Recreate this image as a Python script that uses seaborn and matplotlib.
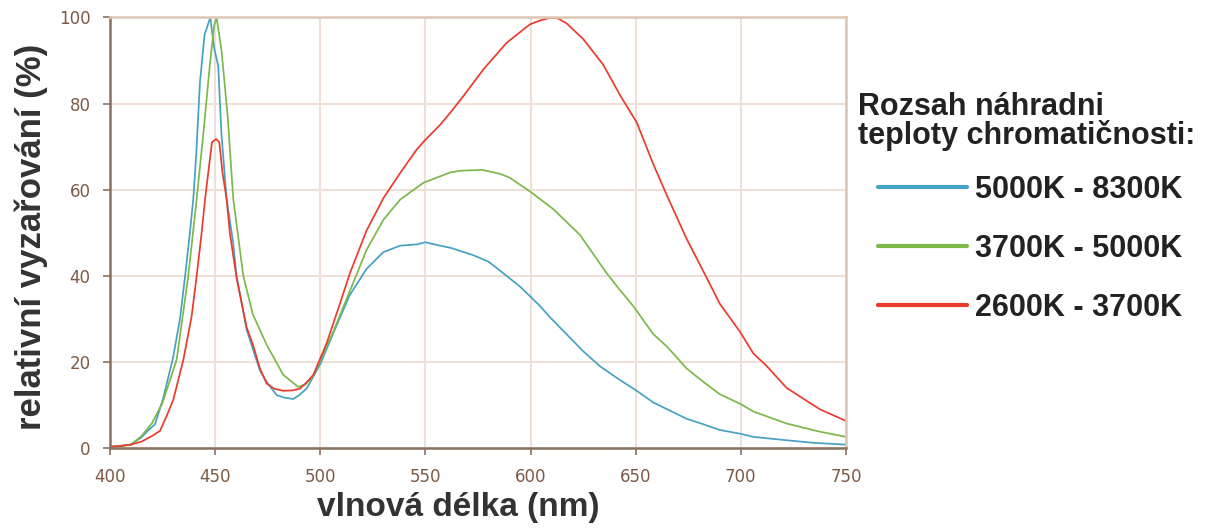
import numpy as np
import pandas as pd
import matplotlib
matplotlib.use("Agg")
import matplotlib.pyplot as plt
from matplotlib.lines import Line2D
import seaborn as sns

# ---- data ----
series_names = ["5000K - 8300K", "3700K - 5000K", "2600K - 3700K"]
series_colors = ["#45a2c4", "#7cb84a", "#ec3b2c"]
legend_title = ["Rozsah náhradni", "teploty chromatičnosti:"]

wl_blue = [400, 405, 410, 415, 419, 421.4, 425.3, 430, 433.3, 435.7, 438, 439.6, 441, 442.8,
           445, 447.7, 449.5, 451.5, 453, 455.5, 458.5, 460.2, 465, 471.3, 475, 479.3, 483,
           487.2, 490, 493.5, 500, 507.8, 514, 522, 530, 538, 546, 550, 556.9, 562, 572.7,
           580, 588.6, 595, 604.5, 609, 617, 625, 633, 642.5, 650.5, 658.3, 665, 674.2,
           680.5, 690, 700, 705.9, 720, 735, 750]
val_blue = [0.3, 0.5, 0.8, 2.5, 4.5, 5.5, 11.5, 21, 30, 39.8, 50, 57.7, 68, 85,
            96, 100, 93, 88.7, 73, 57.7, 48, 40, 27.5, 18, 15, 12.3, 11.7,
            11.4, 12.3, 13.8, 19.5, 28.5, 35.5, 41.6, 45.5, 47, 47.3, 47.8, 47, 46.5, 44.8,
            43.3, 40, 37.5, 33, 30.5, 26.5, 22.5, 19, 15.8, 13.3, 10.6, 9, 6.8,
            5.8, 4.2, 3.3, 2.6, 1.9, 1.2, 0.8]

wl_green = [400, 405, 410, 415, 420, 425, 431.7, 437.2, 441.2, 444.4, 447.5, 449.5, 450.7,
            453, 456, 458.6, 463.4, 468, 474.5, 482.4, 489.5, 493, 496.7, 506.2, 514.1,
            522, 530, 538, 549, 561.7, 566.4, 577, 585.4, 590, 599.7, 610.8, 623.5, 636.2,
            642.5, 648.8, 658.3, 665, 674.2, 680.5, 690, 700, 705.9, 721.7, 737.6, 750]
val_green = [0.3, 0.4, 0.8, 2.8, 5.8, 10.5, 20.5, 39.8, 57.7, 73, 89, 98, 100,
             92.5, 77, 58, 40, 31, 24, 17, 14.2, 14.8, 16.8, 27, 36.5,
             46, 53, 57.7, 61.6, 64, 64.4, 64.6, 63.7, 62.8, 59.6, 55.5, 49.5, 40.6,
             36.7, 33, 26.5, 23.5, 18.5, 16, 12.5, 10.2, 8.5, 5.7, 3.8, 2.6]

wl_red = [400, 405, 410, 415, 420, 423.8, 427, 430.1, 434.9, 438.8, 441.2, 443.6, 445.2,
          446.5, 448.5, 450.5, 452, 453.5, 455.5, 457, 460.2, 465, 468, 471.3, 474.5, 478,
          482.4, 487, 490.3, 493, 496.7, 503, 509.4, 514.1, 522, 530, 537.9, 545.8, 550,
          556.9, 561.7, 568, 577.5, 588.6, 594, 599.7, 604.5, 609.2, 613, 617.2, 625,
          634.6, 642.5, 650.5, 658.3, 665, 674.2, 683.8, 690, 699.6, 705.9, 712.4, 721.7,
          728, 737.6, 750]
val_red = [0.3, 0.5, 0.8, 1.5, 2.8, 4, 7.5, 11.2, 20.5, 30.5, 39.8, 50, 57.7,
           63, 71, 71.8, 71, 64, 57.7, 50, 39.5, 28, 24, 18.5, 15, 13.8,
           13.3, 13.4, 13.8, 15, 17, 24.3, 33.6, 40.6, 50.5, 58, 63.8, 69.3, 71.6,
           75, 77.8, 81.7, 87.9, 94.1, 96.2, 98.4, 99.3, 99.9, 99.8, 98.6, 95,
           89, 82, 75.6, 66, 58.5, 48.6, 39.5, 33.5, 27, 22, 19, 14,
           12, 9, 6.3]

x_ticks = [400, 450, 500, 550, 600, 650, 700, 750]
y_ticks = [0, 20, 40, 60, 80, 100]

frames = []
for name, wl, val in [(series_names[0], wl_blue, val_blue),
                      (series_names[1], wl_green, val_green),
                      (series_names[2], wl_red, val_red)]:
    frames.append(pd.DataFrame({"wl": wl, "val": val, "series": name}))
df = pd.concat(frames, ignore_index=True)

sns.set_theme(style="white")
plt.rcParams['font.family'] = ['DejaVu Sans']

W, H = 1211, 529
fig = plt.figure(figsize=(W / 100, H / 100), dpi=100)
ax = fig.add_axes([0.0908, 0.153, 0.6078, 0.814])

sns.lineplot(data=df, x="wl", y="val", hue="series", hue_order=series_names,
             palette=dict(zip(series_names, series_colors)), linewidth=1.25,
             sort=True, estimator=None, ax=ax, legend=False)

ax.set_xlim(400, 750)
ax.set_ylim(0, 100)
ax.set_xticks(x_ticks)
ax.set_yticks(y_ticks)

grid_c = "#eee0d6"
ax.grid(True, color=grid_c, linewidth=1.4)
ax.set_axisbelow(True)
spine_c = "#8a705f"
for s in ["left", "bottom"]:
    ax.spines[s].set_color(spine_c)
    ax.spines[s].set_linewidth(1.8)
for s in ["top", "right"]:
    ax.spines[s].set_color("#dcc6b6")
    ax.spines[s].set_linewidth(1.8)

ax.tick_params(axis="both", which="major", direction="out", length=5, width=1.2,
               color=spine_c, labelsize=12, labelcolor="#7d5a45", pad=9)
ax.tick_params(left=True, bottom=True)

ax.set_xlabel("vlnová délka (nm)", fontsize=24, fontweight="bold", color="#333333",
              family="Liberation Sans")
ax.xaxis.set_label_coords((458 - 110) / 736, -0.103)
ax.set_ylabel("relativní vyzařování (%)", fontsize=25, fontweight="bold", color="#333333",
              family="Liberation Sans")
ax.yaxis.set_label_coords((48 - 110) / 736, 0.49)

# legend title (two lines, left aligned)
for txt, base in zip(legend_title, [115, 144]):
    fig.text(858 / W, 1 - base / H, txt, ha="left", va="baseline",
             fontsize=22, fontweight="bold", family="Liberation Sans", color="#222222")

handles = [Line2D([0], [0], color=c, linewidth=3) for c in series_colors]
leg = fig.legend(handles, series_names, loc="center left", bbox_to_anchor=(878 / W, 1 - 249 / H),
                 frameon=False,
                 prop={"family": "Liberation Sans", "weight": "bold", "size": 22},
                 handlelength=2.9, handletextpad=0.26, labelspacing=0.95,
                 borderaxespad=0, borderpad=0)
for t in leg.get_texts():
    t.set_color("#222222")

fig.savefig("out.png", dpi=100)
